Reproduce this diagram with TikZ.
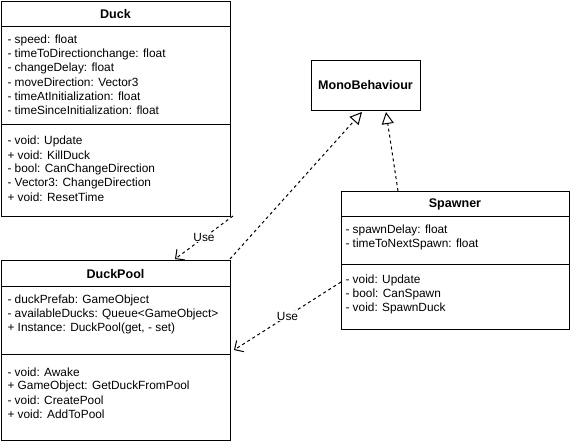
\documentclass[tikz,border=0pt]{standalone}
\usepackage{fontspec}
\setmainfont{Liberation Sans}
\usetikzlibrary{arrows.meta,fit}
\begin{document}
\begin{tikzpicture}[x=0.75pt,y=-0.75pt,line width=0.75pt,
  font=\fontsize{8.9pt}{10pt}\selectfont,
  classbox/.style={draw,inner sep=0pt},
  ctitle/.style={font=\fontsize{9.4pt}{11pt}\selectfont\bfseries,inner sep=0pt},
  row/.style={anchor=west,inner sep=0pt},
  dep/.style={dash pattern=on 2.25pt off 2.25pt,-{Straight Barb[length=5pt,width=10pt]}},
  real/.style={dash pattern=on 2.25pt off 2.25pt,-{Triangle[open,length=9pt,width=9pt,fill=white]}},
  lbl/.style={fill=white,inner sep=0.5pt}]
\useasboundingbox (0,0) rectangle (571,444);
% Duck
\node[classbox,fit={(1,1) (230,216)}] (duck) {};
\node[ctitle] (duckT) at (115.5,14) {Duck};
\draw (1,26) -- (230,26);
\draw (1,124) -- (230,124);
\node[row] (d1) at (7,40) {- speed: float};
\node[row] (d2) at (7,54) {- timeToDirectionchange: float};
\node[row] (d3) at (7,68) {- changeDelay: float};
\node[row] (d4) at (7,82) {- moveDirection: Vector3};
\node[row] (d5) at (7,96) {- timeAtInitialization: float};
\node[row] (d6) at (7,110) {- timeSinceInitialization: float};
\node[row] (d7) at (7,141.5) {- void: Update};
\node[row] (d8) at (7,155.5) {+ void: KillDuck};
\node[row] (d9) at (7,169.5) {- bool: CanChangeDirection};
\node[row] (d10) at (7,183.5) {- Vector3: ChangeDirection};
\node[row] (d11) at (7,197.5) {+ void: ResetTime};
% DuckPool
\node[classbox,fit={(1,260) (230,440)}] (pool) {};
\node[ctitle] (poolT) at (115.5,274) {DuckPool};
\draw (1,286) -- (230,286);
\draw (1,354) -- (230,354);
\node[row] (p1) at (7,300) {- duckPrefab: GameObject};
\node[row] (p2) at (7,314) {- availableDucks: Queue<GameObject>};
\node[row] (p3) at (7,328) {+ Instance: DuckPool(get, - set)};
\node[row] (p4) at (7,372) {- void: Awake};
\node[row] (p5) at (7,386) {+ GameObject: GetDuckFromPool};
\node[row] (p6) at (7,400) {- void: CreatePool};
\node[row] (p7) at (7,414) {+ void: AddToPool};
% MonoBehaviour
\node[classbox,fit={(311,60) (420,110)}] (mono) {};
\node[ctitle] (monoT) at (365.5,85) {MonoBehaviour};
% Spawner
\node[classbox,fit={(341,191) (569,329)}] (spawn) {};
\node[ctitle] (spawnT) at (455,204) {Spawner};
\draw (341,216) -- (569,216);
\draw (341,264) -- (569,264);
\node[row] (s1) at (345,230) {- spawnDelay: float};
\node[row] (s2) at (345,244) {- timeToNextSpawn: float};
\node[row] (s3) at (345,280) {- void: Update};
\node[row] (s4) at (345,294) {- bool: CanSpawn};
\node[row] (s5) at (345,308) {- void: SpawnDuck};
% connector end points
\coordinate (duckOut) at (233,216);
\coordinate (poolIn) at (175,259);
\coordinate (spawnOut) at (341,282);
\coordinate (poolIn2) at (234,350);
\coordinate (poolUp) at (230,259);
\coordinate (monoIn1) at (362,112);
\coordinate (spawnUp) at (398,191);
\coordinate (monoIn2) at (386,112);
% connectors
\draw[real] (poolUp) -- (monoIn1);
\draw[real] (spawnUp) -- (monoIn2);
\draw[dep] (duckOut) -- node[lbl] (use1) {Use} (poolIn);
\draw[dep] (spawnOut) -- node[lbl] (use2) {Use} (poolIn2);
\end{tikzpicture}
\end{document}
